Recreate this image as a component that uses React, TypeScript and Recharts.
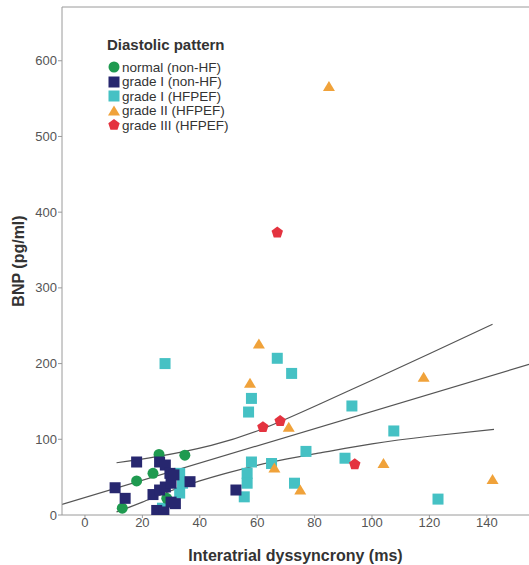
import React from 'react';
import { ComposedChart, Scatter, Line, XAxis, YAxis, ReferenceLine } from 'recharts';

// Diastolic pattern groups: x = interatrial dyssyncrony (ms), y = BNP (pg/ml)
const normalNonHF = [
  { x: 13, y: 9 }, { x: 18, y: 45 }, { x: 23.7, y: 55 }, { x: 25.8, y: 80 },
  { x: 34.8, y: 79 }, { x: 28.5, y: 22 },
];
const grade1NonHF = [
  { x: 18, y: 70 }, { x: 26, y: 70 }, { x: 28, y: 66 }, { x: 29.6, y: 55 },
  { x: 36.6, y: 44 }, { x: 10.5, y: 36 }, { x: 14, y: 22 }, { x: 23.7, y: 27 },
  { x: 26, y: 33 }, { x: 28, y: 37 }, { x: 30, y: 42 }, { x: 30, y: 17 },
  { x: 31.5, y: 15 }, { x: 25, y: 6 }, { x: 27.5, y: 4 }, { x: 31, y: 53 },
  { x: 52.6, y: 33 },
];
const grade1HFPEF = [
  { x: 27.9, y: 200 }, { x: 67, y: 207 }, { x: 72, y: 187 }, { x: 58, y: 154 },
  { x: 57, y: 136 }, { x: 77, y: 84 }, { x: 58, y: 70 }, { x: 56.5, y: 55 },
  { x: 56.5, y: 42 }, { x: 55.5, y: 24 }, { x: 65, y: 68 }, { x: 73, y: 42 },
  { x: 93, y: 144 }, { x: 107.6, y: 111 }, { x: 90.6, y: 75 }, { x: 123, y: 21 },
  { x: 27, y: 9 }, { x: 33, y: 29 }, { x: 33, y: 55 }, { x: 34, y: 42 },
];
const grade2HFPEF = [
  { x: 85, y: 566 }, { x: 60.6, y: 226 }, { x: 57.5, y: 174 }, { x: 71, y: 116 },
  { x: 66, y: 62 }, { x: 75, y: 33 }, { x: 118, y: 182 }, { x: 104, y: 68 },
  { x: 142, y: 47 },
];
const grade3HFPEF = [
  { x: 67, y: 373 }, { x: 62, y: 116 }, { x: 68, y: 124 }, { x: 94, y: 67 },
];

// fit line and 95% band
const fitLine = [{ x: -8, y: 14 }, { x: 154.7, y: 199 }];
const upperBand = [
  { x: 11, y: 69 }, { x: 25, y: 77 }, { x: 44, y: 92 }, { x: 62, y: 114 },
  { x: 82, y: 147 }, { x: 100, y: 178 }, { x: 120, y: 213 }, { x: 142, y: 252 },
];
const lowerBand = [
  { x: 11, y: 4 }, { x: 20, y: 17 }, { x: 30, y: 32 }, { x: 40, y: 45 },
  { x: 50, y: 56 }, { x: 65, y: 70 }, { x: 82, y: 82 }, { x: 100, y: 94 },
  { x: 120, y: 104 }, { x: 142.5, y: 113 },
];

const X_TICKS = [0, 20, 40, 60, 80, 100, 120, 140];
const Y_TICKS = [0, 100, 200, 300, 400, 500, 600];
const Y_MAX = 671;

const COLORS = {
  normal: '#1f9a50',
  g1non: '#27276f',
  g1hf: '#45c1c4',
  g2: '#f0a23a',
  g3: '#e4333f',
};

const LEGEND = [
  { label: 'normal (non-HF)', color: COLORS.normal, kind: 'circle' },
  { label: 'grade I (non-HF)', color: COLORS.g1non, kind: 'square' },
  { label: 'grade I (HFPEF)', color: COLORS.g1hf, kind: 'square' },
  { label: 'grade II (HFPEF)', color: COLORS.g2, kind: 'triangle' },
  { label: 'grade III (HFPEF)', color: COLORS.g3, kind: 'pentagon' },
];

function Marker({ kind, cx, cy, color }: { kind: string; cx: number; cy: number; color: string }) {
  if (kind === 'circle') return <circle cx={cx} cy={cy} r={5.5} fill={color} />;
  if (kind === 'square') return <rect x={cx - 5.5} y={cy - 5.5} width={11} height={11} fill={color} />;
  if (kind === 'triangle') {
    return <polygon points={`${cx},${cy - 5.5} ${cx + 6},${cy + 4.5} ${cx - 6},${cy + 4.5}`} fill={color} />;
  }
  const pts = [0, 1, 2, 3, 4]
    .map((i) => {
      const a = -Math.PI / 2 + (i * 2 * Math.PI) / 5;
      return `${cx + 6 * Math.cos(a)},${cy + 6 * Math.sin(a)}`;
    })
    .join(' ');
  return <polygon points={pts} fill={color} />;
}

const shapeOf = (kind: string, color: string) => (p: any) => (
  <Marker kind={kind} cx={p.cx} cy={p.cy} color={color} />
);

const font = 'Arial, "Liberation Sans", sans-serif';

export default function App() {
  return (
    <div style={{ position: 'absolute', left: 0, top: 0, width: 529, height: 565, background: '#fff', fontFamily: font }}>
      <ComposedChart width={529} height={565} margin={{ top: 7, right: 0, bottom: 0, left: 0 }}>
        <XAxis
          type="number"
          dataKey="x"
          domain={[-8, 154.7]}
          ticks={X_TICKS}
          allowDataOverflow
          height={50}
          stroke="#9a9a9a"
          tickSize={3}
          tickMargin={0}
          tick={{ fill: '#555', fontSize: 13, fontFamily: font }}
          label={{
            value: 'Interatrial dyssyncrony (ms)',
            position: 'insideBottom',
            offset: 4,
            style: { fill: '#333', fontSize: 16, fontWeight: 'bold', fontFamily: font },
          }}
        />
        <YAxis
          type="number"
          dataKey="y"
          domain={[0, Y_MAX]}
          ticks={Y_TICKS}
          allowDataOverflow
          width={62}
          stroke="#9a9a9a"
          tickSize={4}
          tickMargin={1}
          tick={{ fill: '#555', fontSize: 13, fontFamily: font }}
          label={{
            content: ({ viewBox }: any) => {
              const cx = viewBox.x + 18;
              const cy = viewBox.y + viewBox.height / 2;
              return (
                <text
                  x={cx}
                  y={cy}
                  transform={`rotate(-90 ${cx} ${cy})`}
                  textAnchor="middle"
                  dominantBaseline="central"
                  fill="#333"
                  fontSize={16}
                  fontWeight="bold"
                  fontFamily={font}
                >
                  BNP (pg/ml)
                </text>
              );
            },
          }}
        />
        <ReferenceLine y={Y_MAX} stroke="#9a9a9a" ifOverflow="visible" />
        <Line data={fitLine} dataKey="y" type="linear" stroke="#555" strokeWidth={1.2} dot={false} isAnimationActive={false} />
        <Line data={upperBand} dataKey="y" type="natural" stroke="#555" strokeWidth={1.2} dot={false} isAnimationActive={false} />
        <Line data={lowerBand} dataKey="y" type="natural" stroke="#555" strokeWidth={1.2} dot={false} isAnimationActive={false} />
        <Scatter data={grade1HFPEF} dataKey="y" shape={shapeOf('square', COLORS.g1hf)} isAnimationActive={false} />
        <Scatter data={grade2HFPEF} dataKey="y" shape={shapeOf('triangle', COLORS.g2)} isAnimationActive={false} />
        <Scatter data={grade3HFPEF} dataKey="y" shape={shapeOf('pentagon', COLORS.g3)} isAnimationActive={false} />
        <Scatter data={normalNonHF} dataKey="y" shape={shapeOf('circle', COLORS.normal)} isAnimationActive={false} />
        <Scatter data={grade1NonHF} dataKey="y" shape={shapeOf('square', COLORS.g1non)} isAnimationActive={false} />
      </ComposedChart>
      <div style={{ position: 'absolute', left: 107, top: 36, color: '#333' }}>
        <div style={{ fontWeight: 'bold', fontSize: 15, lineHeight: '18px', marginBottom: 6 }}>Diastolic pattern</div>
        {LEGEND.map((item) => (
          <div key={item.label} style={{ display: 'flex', alignItems: 'center', height: 14.5, fontSize: 13.5 }}>
            <svg width={14} height={14} style={{ marginRight: 1 }}>
              <Marker kind={item.kind} cx={7} cy={7} color={item.color} />
            </svg>
            <span>{item.label}</span>
          </div>
        ))}
      </div>
    </div>
  );
}
